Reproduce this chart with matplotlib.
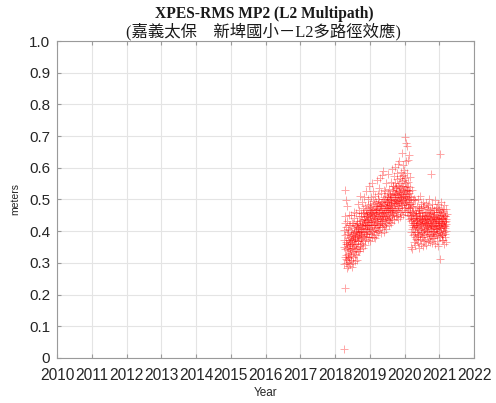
import numpy as np
import matplotlib
matplotlib.use("Agg")
import matplotlib.pyplot as plt

# monthly blocks of readings (metres x 1000), about 20 values per month
months = [(2018, 4), (2018, 5), (2018, 6), (2018, 7), (2018, 8), (2018, 9),
          (2018, 10), (2018, 11), (2018, 12),
          (2019, 1), (2019, 2), (2019, 3), (2019, 4), (2019, 5), (2019, 6),
          (2019, 7), (2019, 8), (2019, 9), (2019, 10), (2019, 11), (2019, 12),
          (2020, 1), (2020, 2), (2020, 3), (2020, 4), (2020, 5), (2020, 6),
          (2020, 7), (2020, 8), (2020, 9), (2020, 10), (2020, 11), (2020, 12),
          (2021, 1), (2021, 2), (2021, 3)]

mp2_mm = [
    [372, 27, 405, 351, 296, 222, 427, 389, 317, 448, 531, 343, 366, 301, 412, 326, 497, 358, 312, 478],
    [347, 392, 309, 358, 284, 433, 371, 318, 396, 327, 352, 408, 291, 363, 452, 377, 314, 339, 421, 302],
    [356, 331, 418, 382, 297, 367, 344, 403, 322, 389, 451, 336, 372, 309, 361, 427, 348, 394, 286, 375],
    [391, 347, 368, 426, 318, 384, 299, 409, 358, 441, 373, 335, 397, 462, 329, 378, 352, 416, 307, 386],
    [374, 418, 343, 396, 457, 361, 402, 326, 388, 433, 349, 412, 381, 309, 427, 368, 486, 394, 338, 407],
    [413, 369, 448, 392, 338, 423, 381, 467, 402, 354, 431, 396, 512, 371, 419, 344, 458, 387, 406, 362],
    [402, 447, 378, 421, 493, 361, 434, 409, 386, 458, 347, 427, 398, 474, 416, 369, 439, 384, 508, 423],
    [438, 396, 462, 419, 357, 446, 407, 481, 428, 374, 453, 411, 527, 392, 434, 466, 383, 421, 449, 401],
    [418, 462, 391, 447, 503, 372, 429, 456, 408, 484, 436, 394, 467, 421, 541, 383, 441, 413, 476, 452],
    [453, 407, 486, 431, 369, 462, 418, 509, 444, 392, 473, 428, 437, 551, 401, 458, 383, 468, 421, 496],
    [428, 471, 396, 452, 527, 383, 447, 419, 489, 436, 404, 462, 441, 378, 512, 453, 423, 481, 409, 467],
    [467, 414, 493, 438, 456, 389, 478, 427, 561, 448, 402, 471, 433, 518, 459, 396, 487, 442, 421, 503],
    [449, 496, 418, 472, 537, 403, 461, 438, 484, 427, 568, 453, 412, 479, 446, 521, 432, 467, 393, 488],
    [478, 431, 577, 456, 412, 492, 468, 439, 589, 451, 503, 424, 472, 447, 531, 398, 486, 461, 419, 509],
    [457, 502, 436, 483, 416, 467, 528, 449, 491, 408, 474, 443, 552, 462, 427, 496, 473, 438, 511, 481],
    [493, 447, 521, 468, 579, 436, 487, 459, 508, 418, 476, 532, 454, 497, 441, 483, 466, 514, 429, 501],
    [472, 518, 446, 497, 427, 483, 556, 461, 509, 488, 437, 531, 474, 597, 452, 503, 468, 492, 544, 457],
    [517, 463, 541, 488, 452, 509, 573, 479, 526, 434, 497, 551, 468, 513, 602, 486, 521, 447, 494, 538],
    [489, 536, 461, 518, 583, 472, 507, 449, 529, 496, 564, 438, 513, 481, 547, 503, 611, 466, 524, 492],
    [527, 472, 553, 498, 621, 446, 519, 488, 568, 507, 462, 536, 494, 587, 516, 453, 541, 482, 509, 574],
    [506, 559, 482, 534, 648, 467, 523, 497, 578, 512, 451, 544, 608, 489, 531, 473, 562, 516, 594, 502],
    [538, 487, 697, 512, 569, 461, 527, 678, 493, 551, 504, 623, 476, 542, 669, 518, 459, 584, 531, 497],
    [484, 531, 452, 624, 507, 473, 556, 438, 519, 491, 641, 466, 527, 503, 448, 572, 486, 511, 459, 538],
    [472, 431, 508, 451, 396, 487, 351, 443, 419, 529, 462, 408, 479, 343, 436, 497, 425, 388, 456, 413],
    [437, 476, 392, 418, 503, 367, 455, 426, 381, 463, 398, 441, 498, 412, 356, 447, 374, 421, 458, 432],
    [417, 452, 398, 436, 371, 481, 409, 443, 426, 364, 467, 392, 438, 501, 413, 384, 456, 429, 347, 472],
    [441, 403, 466, 389, 427, 512, 376, 448, 419, 458, 395, 433, 487, 361, 422, 474, 408, 447, 382, 436],
    [424, 461, 397, 438, 352, 476, 411, 445, 383, 429, 493, 416, 368, 452, 437, 404, 481, 391, 426, 459],
    [408, 447, 372, 433, 489, 419, 396, 462, 427, 357, 443, 414, 477, 388, 451, 425, 401, 438, 369, 484],
    [436, 399, 471, 418, 443, 376, 457, 409, 428, 502, 391, 447, 365, 423, 468, 412, 384, 439, 453, 417],
    [421, 458, 384, 581, 439, 406, 473, 392, 431, 362, 449, 415, 487, 401, 436, 378, 462, 426, 444, 397],
    [446, 411, 433, 378, 467, 402, 454, 387, 425, 497, 416, 441, 359, 472, 407, 438, 393, 429, 461, 418],
    [413, 452, 391, 437, 406, 476, 368, 443, 421, 398, 462, 431, 354, 486, 417, 448, 385, 427, 409, 471],
    [437, 645, 402, 459, 418, 381, 446, 312, 427, 468, 395, 433, 492, 409, 452, 371, 424, 441, 388, 463],
    [426, 389, 458, 412, 437, 373, 469, 404, 443, 419, 482, 396, 431, 361, 451, 415, 428, 392, 447, 409],
    [417, 448, 383, 432, 471, 401, 439, 366, 424, 455],
]

year_ticks = list(range(2010, 2023))
y_ticks = [0, 0.1, 0.2, 0.3, 0.4, 0.5, 0.6, 0.7, 0.8, 0.9, 1.0]
y_labels = ["0", "0.1", "0.2", "0.3", "0.4", "0.5", "0.6", "0.7", "0.8", "0.9", "1.0"]

t = []
v = []
for (yr, mo), vals in zip(months, mp2_mm):
    for i, val in enumerate(vals):
        t.append(yr + (mo - 1) / 12 + i / (20 * 12))
        v.append(val / 1000)

fig = plt.figure(figsize=(4.96, 4.03), dpi=100)
ax = fig.add_axes([0.115, 0.112, 0.841, 0.786])

ax.plot(t, v, '+', color='red', markersize=5.5, markeredgewidth=0.7, alpha=0.35)

ax.set_xlim(2010, 2022)
ax.set_ylim(0, 1)
ax.set_xticks(year_ticks)
ax.set_xticklabels([str(y) for y in year_ticks])
ax.set_yticks(y_ticks)
ax.set_yticklabels(y_labels)
ax.grid(True, color='#e4e4e4', linewidth=0.8)
ax.set_axisbelow(True)
for s in ax.spines.values():
    s.set_color('#9a9a9a')
    s.set_linewidth(0.8)
ax.tick_params(direction='in', top=True, right=True, length=3, color='#9a9a9a',
               labelsize=11, labelcolor='#262626')
ax.tick_params(axis='x', pad=7, labelsize=11.2)
ax.tick_params(axis='y', pad=5)
for lab in ax.get_xticklabels() + ax.get_yticklabels():
    lab.set_family('Liberation Sans')

ax.set_xlabel('Year', family='Liberation Sans', fontsize=8.5, color='#262626', labelpad=3)
ax.set_ylabel('meters', family='Liberation Sans', fontsize=7.5, color='#262626', labelpad=6)

fig.text(0.532, 0.965, 'XPES-RMS MP2 (L2 Multipath)', ha='center', va='center',
         family='Liberation Serif', fontweight='bold', fontsize=11.2, color='#1a1a1a')
fig.text(0.532, 0.921, '(嘉義太保\u3000新埤國小－L2多路徑效應)', ha='center', va='center',
         family=['Liberation Serif', 'Noto Sans CJK TC'], fontsize=11.8, color='#1a1a1a')

fig.savefig('out.png', dpi=100)
